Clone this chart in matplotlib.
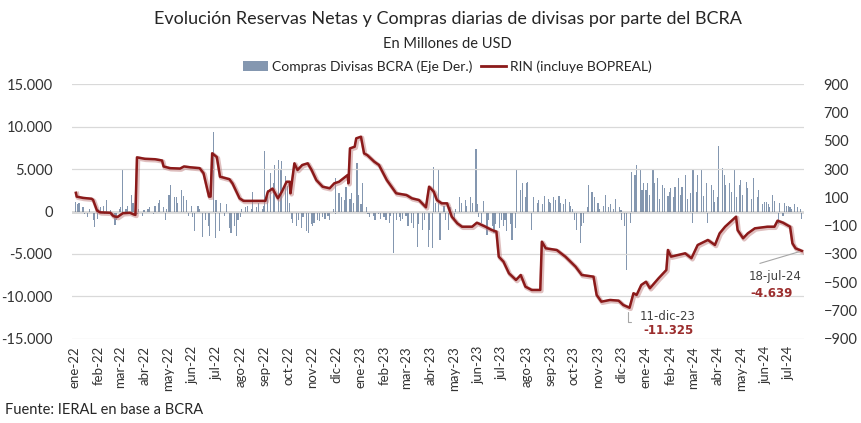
import matplotlib
matplotlib.use("Agg")
import matplotlib.pyplot as plt
import matplotlib.patheffects as pe
from matplotlib.patches import Patch
from matplotlib.lines import Line2D
from matplotlib.ticker import FuncFormatter
import numpy as np
import pandas as pd

plt.rcParams["font.family"] = ["Lato", "DejaVu Sans"]

# RIN (incluye BOPREAL), millones de USD
rin_dates = [
    "2022-01-03", "2022-01-04", "2022-01-12", "2022-01-23", "2022-01-25", "2022-01-30",
    "2022-02-03", "2022-02-16", "2022-02-20", "2022-02-25", "2022-03-04", "2022-03-13",
    "2022-03-18", "2022-03-20", "2022-03-22", "2022-04-01", "2022-04-14", "2022-04-23",
    "2022-04-25", "2022-05-03", "2022-05-16", "2022-05-21", "2022-05-29", "2022-06-10",
    "2022-06-15", "2022-06-19", "2022-06-22", "2022-06-24", "2022-06-26", "2022-07-02",
    "2022-07-06", "2022-07-18", "2022-07-22", "2022-07-31", "2022-08-05", "2022-09-02",
    "2022-09-05", "2022-09-11", "2022-09-18", "2022-09-23", "2022-09-29", "2022-10-03",
    "2022-10-04", "2022-10-09", "2022-10-13", "2022-10-19", "2022-10-26", "2022-10-31",
    "2022-11-06", "2022-11-14", "2022-11-23", "2022-11-29", "2022-12-05", "2022-12-16",
    "2022-12-17", "2022-12-19", "2022-12-25", "2022-12-27", "2023-01-02", "2023-01-06",
    "2023-01-10", "2023-01-19", "2023-01-25", "2023-02-04", "2023-02-16", "2023-03-01",
    "2023-03-08", "2023-03-17", "2023-03-26", "2023-03-30", "2023-04-05", "2023-04-09",
    "2023-04-15", "2023-04-22", "2023-04-28", "2023-05-05", "2023-05-11", "2023-05-24",
    "2023-05-30", "2023-06-10", "2023-06-18", "2023-06-24", "2023-06-27", "2023-07-03",
    "2023-07-10", "2023-07-19", "2023-07-25", "2023-07-31", "2023-08-08", "2023-08-19",
    "2023-08-21", "2023-08-26", "2023-09-09", "2023-09-20", "2023-10-03", "2023-10-11",
    "2023-10-26", "2023-10-30", "2023-11-05", "2023-11-16", "2023-11-27", "2023-12-03",
    "2023-12-11", "2023-12-16", "2023-12-20", "2023-12-26", "2024-01-01", "2024-01-06",
    "2024-01-17", "2024-01-27", "2024-01-29", "2024-02-02", "2024-02-11", "2024-02-20",
    "2024-02-28", "2024-03-07", "2024-03-20", "2024-03-29", "2024-04-04", "2024-04-11",
    "2024-04-18", "2024-04-25", "2024-04-27", "2024-05-04", "2024-05-10", "2024-05-19",
    "2024-06-04", "2024-06-13", "2024-06-17", "2024-06-24", "2024-07-03", "2024-07-06",
    "2024-07-10", "2024-07-18",
]
rin_values = [
    2200, 1750, 1600, 1500, 1350, 100,
    -100, -150, -550, -650, -200, -150,
    -350, -400, 6370, 6200, 6150, 6000,
    5300, 5100, 5050, 5300, 5200, 5100,
    4500, 2900, 1750, 1750, 6850, 6400,
    4100, 3800, 3300, 1550, 1250, 1250,
    2300, 2700, 1550, 2330, 3500, 3500,
    2140, 5670, 4880, 5470, 5670, 4880,
    3700, 2920, 2730, 3320, 3500, 4290,
    3320, 7430, 7620, 8610, 8800, 6840,
    6640, 5860, 5470, 3700, 2140, 1940,
    1550, 1350, 490, 2920, 2330, 1350,
    960, 960, -610, -1390, -1790, -1790,
    -1320, -1790, -2180, -2370, -5310, -5900,
    -7270, -8060, -7470, -8840, -9230, -9230,
    -3550, -4330, -4530, -5310, -6490, -7470,
    -7670, -9820, -10610, -10410, -10490, -11000,
    -11325, -9620, -9820, -8640, -8260, -9030,
    -7860, -6880, -4530, -5310, -5120, -4920,
    -5500, -3940, -3350, -3940, -2570, -1790,
    -1200, -610, -2180, -3150, -2570, -1980,
    -1790, -1790, -1080, -1320, -1790, -3740,
    -4330, -4639,
]

# Compras de divisas BCRA (eje derecho), sampled values per month
purchase_months = [
    "2022-01", "2022-02", "2022-03", "2022-04", "2022-05", "2022-06",
    "2022-07", "2022-08", "2022-09", "2022-10", "2022-11", "2022-12",
    "2023-01", "2023-02", "2023-03", "2023-04", "2023-05", "2023-06",
    "2023-07", "2023-08", "2023-09", "2023-10", "2023-11", "2023-12",
    "2024-01", "2024-02", "2024-03", "2024-04", "2024-05", "2024-06",
    "2024-07",
]
purchase_values = [
    [70, 50, 60, 30, -20, -40, 20, -60, -107, -50],
    [20, 30, 40, -20, 80, 10, -30, -95, -60, 20],
    [30, 293, 20, 40, 120, 60, -20, 20, -30, 10],
    [10, 20, 30, -20, 40, 60, 80, 30, -60, 20],
    [120, 187, 100, 105, 60, 150, 110, 80, -30, 40],
    [-40, -140, 40, 20, -180, -60, -100, -170, 563, -187],
    [80, -140, 60, -30, 50, -120, -150, -100, -170, -60],
    [-40, 20, 30, 40, 20, 140, 30, 60, 20, 40],
    [427, 150, 271, 200, 330, 365, 300, 360, 250, 180],
    [60, -50, -80, -100, -60, -120, -40, -140, -152, -90],
    [-100, -80, -60, -70, -40, -50, -30, -60, 20, -20],
    [236, 130, 100, 80, 170, 90, 130, 60, 340, 120],
    [50, 200, 30, -20, -40, -30, -60, -20, -50, -40],
    [-40, -60, -80, -30, -290, -60, -40, -70, -50, -30],
    [-30, -100, -80, -120, -250, -90, -130, -60, -250, -130],
    [-258, 316, 60, 293, -200, 40, -60, -130, 30, -40],
    [-60, 20, 105, 60, 80, 40, 100, 60, 441, 50],
    [-40, -80, 75, -166, -60, -100, -150, -90, -120, -60],
    [-100, -60, -140, -90, -200, -120, 293, 150, 200, 100],
    [200, 210, -130, 100, 60, 80, 50, 110, 90, 70],
    [60, 100, 80, 110, 60, 50, 90, 70, 40, 20],
    [-60, -130, -222, -100, -80, 30, 187, 140, 100, 60],
    [60, 20, 40, 120, 30, 50, 20, 90, 30, 10],
    [-60, -100, -413, -80, 281, 258, 328, 293, 150, 200],
    [150, 200, 120, 293, 200, 240, 90, 187, 165, 110, 140],
    [165, 100, 175, 240, 120, 175, 258, 90, 130, -82],
    [293, 140, 258, 293, 110, 200, -82, 187, 150, 70],
    [100, 463, 305, 258, 187, 200, 140, 293, 105, 187],
    [225, 120, 210, 165, 90, 240, 105, 150, 50, 70],
    [70, 50, 30, 120, 75, -90, 60, -30, 60, 40],
    [40, 30, 20, 50, 30, 20, -50],
]

month_names = ["ene", "feb", "mar", "abr", "may", "jun",
               "jul", "ago", "sep", "oct", "nov", "dic"]

LINE_COLOR = "#8b1a1a"
BAR_COLOR = "#8497b0"
LAST_DAY = pd.Timestamp("2024-07-18")


def bar_positions():
    dates, values = [], []
    for month, vals in zip(purchase_months, purchase_values):
        start = pd.Timestamp(month + "-01")
        end = min(start + pd.offsets.MonthEnd(0), LAST_DAY)
        days = pd.bdate_range(start, end)
        idx = np.linspace(0, len(days) - 1, len(vals)).round().astype(int)
        dates.extend(days[idx])
        values.extend(vals)
    return pd.DatetimeIndex(dates), np.array(values)


def thousands(v, _pos):
    return f"{v:,.0f}".replace(",", ".")


fig = plt.figure(figsize=(8.61, 4.23), dpi=100)
ax = fig.add_axes([0.0836, 0.1986, 0.8504, 0.6028])
ax2 = ax.twinx()

bar_dates, bar_vals = bar_positions()
ax2.bar(bar_dates, bar_vals, width=1.5, color=BAR_COLOR, linewidth=0)
ax2.axhline(0, color="#404040", linewidth=1.0)
ax2.set_ylim(-900, 900)
ax2.set_yticks(np.arange(-900, 901, 200))

line_dates = pd.to_datetime(rin_dates)
ax.plot(line_dates, rin_values, color=LINE_COLOR, linewidth=1.8,
        path_effects=[pe.SimpleLineShadow(offset=(0.8, -0.8), shadow_color="#c08080",
                                          alpha=0.5, linewidth=3.2),
                      pe.Normal()])
ax.set_ylim(-15000, 15000)
ax.set_yticks(np.arange(-15000, 15001, 5000))
ax.yaxis.set_major_formatter(FuncFormatter(thousands))
ax.grid(axis="y", color="#d9d9d9", linewidth=0.9)
ax.set_axisbelow(True)
ax.set_zorder(ax2.get_zorder() + 1)
ax.patch.set_visible(False)

ticks = pd.date_range("2022-01-01", "2024-07-01", freq="MS")
ax.set_xticks(ticks)
ax.set_xticklabels([f"{month_names[t.month - 1]}-{t.year % 100:02d}" for t in ticks],
                   rotation=90, fontsize=9.5, color="#333333")
ax.set_xlim(pd.Timestamp("2021-12-29"), pd.Timestamp("2024-07-21"))

for a in (ax, ax2):
    for s in a.spines.values():
        s.set_visible(False)
    a.tick_params(length=0, labelsize=10.5, colors="#333333")
ax.tick_params(axis="x", pad=5, labelsize=9.5)
ax.tick_params(axis="y", pad=14)
ax2.tick_params(axis="y", pad=14)

# annotations
ax.annotate("", xy=(pd.Timestamp("2023-12-09"), -11500), xycoords="data",
            xytext=(pd.Timestamp("2023-12-16"), -13000), textcoords="data",
            arrowprops=dict(arrowstyle="-", color="#a6a6a6", lw=0.8,
                            connectionstyle="angle,angleA=0,angleB=90,rad=0"))
ax.text(pd.Timestamp("2023-12-24"), -12300, "11-dic-23", fontsize=8.5,
        color="#404040", va="center", ha="left", family=["DejaVu Sans"])
ax.text(pd.Timestamp("2023-12-29"), -14000, "-11.325", fontsize=8.5,
        color="#9b2d2d", va="center", ha="left", fontweight="bold",
        family=["DejaVu Sans"])
ax.annotate("", xy=(pd.Timestamp("2024-07-18"), -4639), xycoords="data",
            xytext=(pd.Timestamp("2024-05-22"), -6200), textcoords="data",
            arrowprops=dict(arrowstyle="-", color="#a6a6a6", lw=0.8))
ax.text(pd.Timestamp("2024-07-18"), -7700, "18-jul-24", fontsize=8.5,
        color="#404040", va="center", ha="right", family=["DejaVu Sans"])
ax.text(pd.Timestamp("2024-07-06"), -9600, "-4.639", fontsize=8.5,
        color="#9b2d2d", va="center", ha="right", fontweight="bold",
        family=["DejaVu Sans"])

fig.text(0.52, 0.955, "Evolución Reservas Netas y Compras diarias de divisas por parte del BCRA",
         ha="center", va="center", fontsize=13, color="#262626")
fig.text(0.52, 0.895, "En Millones de USD", ha="center", va="center",
         fontsize=10.5, color="#262626")

handles = [Patch(facecolor=BAR_COLOR, edgecolor="none"),
           Line2D([0], [0], color=LINE_COLOR, linewidth=2)]
fig.legend(handles, ["Compras Divisas BCRA (Eje Der.)", "RIN (incluye BOPREAL)"],
           loc="center", bbox_to_anchor=(0.52, 0.842), ncol=2, frameon=False,
           fontsize=10, handlelength=1.8, handletextpad=0.3, columnspacing=0.6,
           labelcolor="#262626")

fig.text(0.006, 0.03, "Fuente: IERAL en base a BCRA", ha="left", va="center",
         fontsize=10.5, color="#262626")

fig.savefig("out.png", dpi=100)
